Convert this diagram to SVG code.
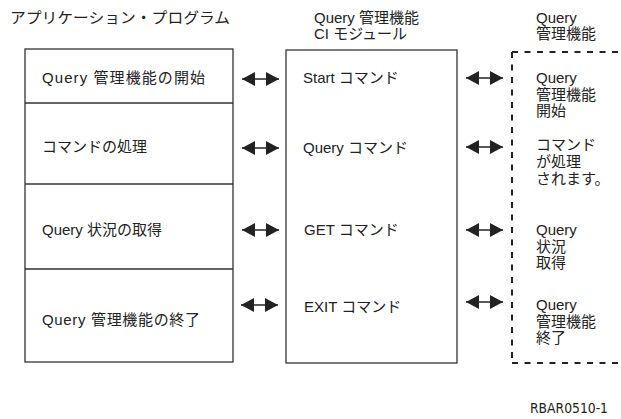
<svg xmlns="http://www.w3.org/2000/svg" width="621" height="419" viewBox="0 0 621 419">
<defs>
<style>
text{font-family:"Liberation Sans","Noto Sans CJK JP",sans-serif;font-size:15px;fill:#222}
.box{fill:#fff;stroke:#333;stroke-width:1.3}
.div{stroke:#333;stroke-width:1.3}
.dash{fill:none;stroke:#222;stroke-width:2;stroke-dasharray:6 6.5}
.arr{stroke:#222;stroke-width:1.5;marker-start:url(#ah);marker-end:url(#ah)}
.id{font-family:"DejaVu Sans","Liberation Sans",sans-serif;font-size:14px}
</style>
<marker id="ah" markerUnits="userSpaceOnUse" markerWidth="13" markerHeight="14" refX="13" refY="7" orient="auto-start-reverse">
<path d="M0,0 L13,7 L0,14 Z" fill="#222"/>
</marker>
</defs>
<rect width="621" height="419" fill="#fff"/>

<g id="headers">
<text x="10" y="23" textLength="220" lengthAdjust="spacingAndGlyphs">アプリケーション・プログラム</text>
<text x="314" y="23">Query 管理機能</text>
<text x="314" y="39">CI モジュール</text>
<text x="536" y="23">Query</text>
<text x="536" y="39">管理機能</text>
</g>

<g id="app">
<rect class="box" x="25" y="49" width="208" height="313"/>
<line class="div" x1="25" y1="103" x2="233" y2="103"/>
<line class="div" x1="25" y1="184" x2="233" y2="184"/>
<line class="div" x1="25" y1="269" x2="233" y2="269"/>
<text x="42" y="83" textLength="163" lengthAdjust="spacing">Query 管理機能の開始</text>
<text x="42" y="152">コマンドの処理</text>
<text x="42" y="235">Query 状況の取得</text>
<text x="42" y="325" textLength="158" lengthAdjust="spacing">Query 管理機能の終了</text>
</g>

<g id="ci">
<rect class="box" x="286" y="50" width="171" height="313"/>
<text x="303" y="83">Start コマンド</text>
<text x="303" y="153">Query コマンド</text>
<text x="304" y="235">GET コマンド</text>
<text x="304" y="312">EXIT コマンド</text>
</g>

<g id="qm">
<path class="dash" d="M512,52 H621 M512,52 V363 M512,363 H621"/>
<text x="536" y="83">Query</text>
<text x="536" y="100">管理機能</text>
<text x="536" y="116">開始</text>
<text x="536" y="150">コマンド</text>
<text x="536" y="167">が処理</text>
<text x="536" y="184">されます。</text>
<text x="536" y="235">Query</text>
<text x="536" y="252">状況</text>
<text x="536" y="268">取得</text>
<text x="536" y="310">Query</text>
<text x="536" y="327">管理機能</text>
<text x="536" y="343">終了</text>
</g>

<g id="connectors">
<line class="arr" x1="242" y1="79" x2="279" y2="79"/>
<line class="arr" x1="242" y1="148" x2="279" y2="148"/>
<line class="arr" x1="242" y1="230" x2="279" y2="230"/>
<line class="arr" x1="241" y1="305" x2="278" y2="305"/>
<line class="arr" x1="466" y1="78" x2="503" y2="78"/>
<line class="arr" x1="466" y1="147" x2="503" y2="147"/>
<line class="arr" x1="466" y1="230" x2="503" y2="230"/>
<line class="arr" x1="466" y1="302" x2="503" y2="302"/>
</g>

<text class="id" x="530" y="413" textLength="78" lengthAdjust="spacingAndGlyphs">RBAR0510-1</text>
</svg>
